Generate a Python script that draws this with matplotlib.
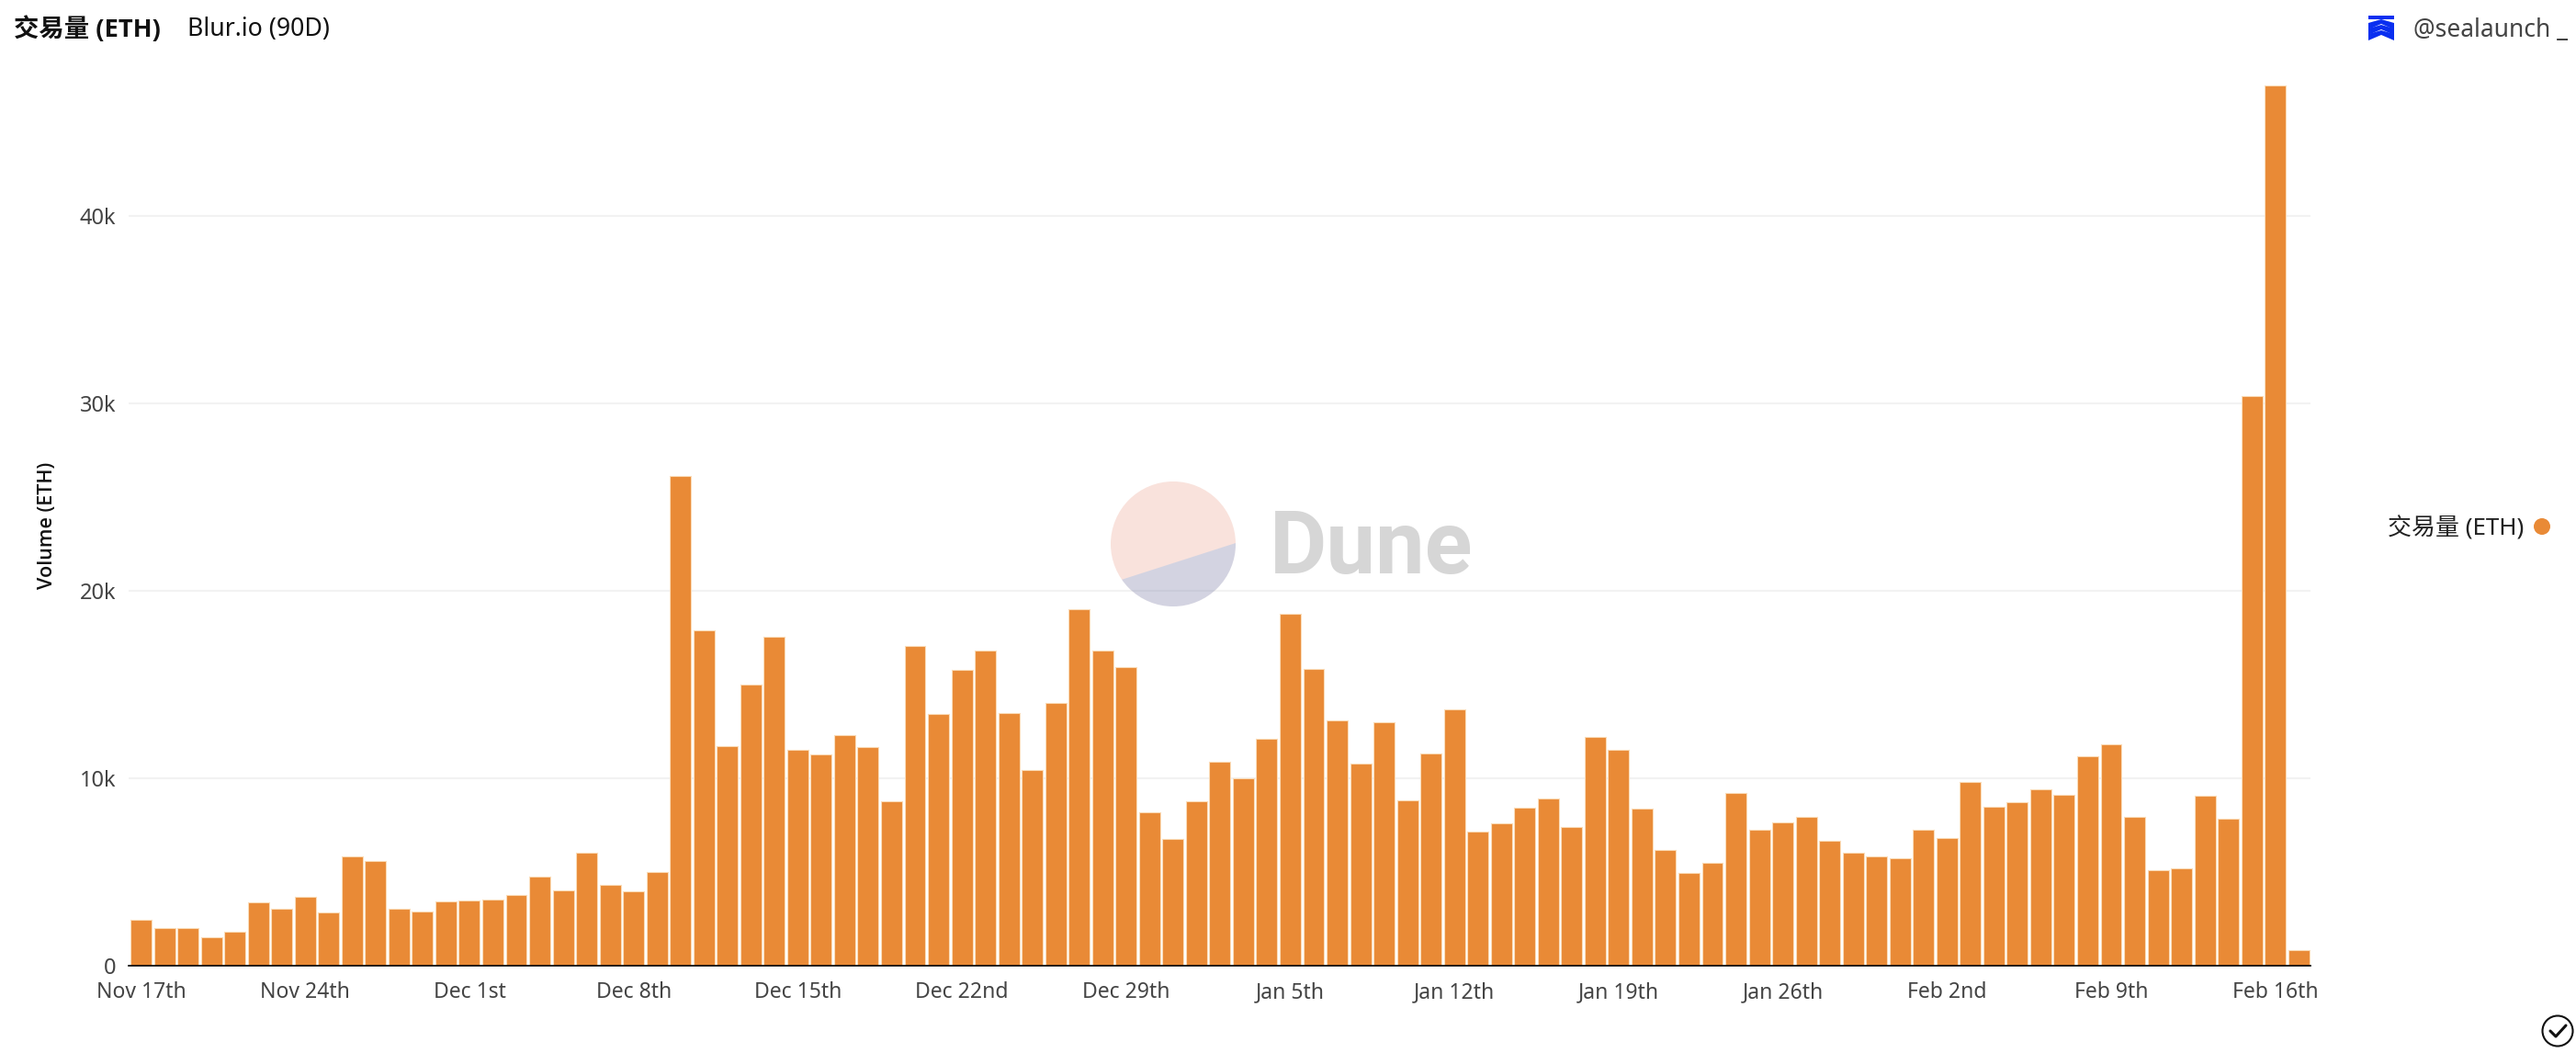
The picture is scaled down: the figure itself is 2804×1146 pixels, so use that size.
import numpy as np
import matplotlib
matplotlib.use('Agg')
import matplotlib.pyplot as plt
from matplotlib.patches import Circle, Polygon

plt.rcParams['font.family'] = ['Noto Sans', 'Noto Sans CJK SC', 'DejaVu Sans']
BOLD_FONTS = ['Open Sans', 'Noto Sans CJK SC', 'DejaVu Sans']

# daily volume, thousands of ETH, Nov 17th onwards
volume_k = [2.45, 1.99, 2.01, 1.50, 1.80, 3.38, 3.03, 3.67, 2.82, 5.81, 5.56, 3.03, 2.87, 3.39, 3.46, 3.52,
            3.73, 4.74, 3.99, 6.00, 4.30, 3.94, 4.99, 26.11, 17.87, 11.72, 15.00, 17.52, 11.50, 11.25, 12.30,
            11.65, 8.77, 17.04, 13.42, 15.77, 16.78, 13.46, 10.43, 13.98, 19.00, 16.78, 15.91, 8.19, 6.75, 8.73, 10.85,
            9.99, 12.07, 18.78, 15.82, 13.05, 10.76, 12.98, 8.82, 11.29, 13.65, 7.12, 7.58, 8.40, 8.89, 7.40,
            12.20, 11.51, 8.38, 6.14, 4.92, 5.48, 9.20, 7.21, 7.61, 7.93, 6.63, 6.02, 5.79, 5.72, 7.24, 6.81,
            9.76, 8.45, 8.70, 9.40, 9.10, 11.15, 11.78, 7.94, 5.09, 5.18, 9.03, 7.84, 30.40, 46.96, 0.79]

x_tick_labels = ['Nov 17th', 'Nov 24th', 'Dec 1st', 'Dec 8th', 'Dec 15th', 'Dec 22nd', 'Dec 29th',
                 'Jan 5th', 'Jan 12th', 'Jan 19th', 'Jan 26th', 'Feb 2nd', 'Feb 9th', 'Feb 16th']
y_ticks_k = [0, 10, 20, 30, 40]
y_tick_labels = ['0', '10k', '20k', '30k', '40k']

W, H = 2804, 1146
ORANGE = '#e98a36'

fig = plt.figure(figsize=(W / 100, H / 100), dpi=100, facecolor='white')
ax = fig.add_axes([140 / W, (H - 1050.5) / H, 2375 / W, 960 / H])

days = np.arange(len(volume_k))
ax.bar(days, volume_k, width=0.9, color=ORANGE, edgecolor='#fbdcb8', linewidth=0.8, zorder=3)

ax.set_xlim(-0.53, 92.5)
ax.set_ylim(0, 960 / 20.39)
ax.set_xticks(days[::7][:len(x_tick_labels)])
ax.set_xticklabels(x_tick_labels, fontsize=16.5, color='#444444')
ax.set_yticks(y_ticks_k)
ax.set_yticklabels(y_tick_labels, fontsize=17, color='#444444')
ax.tick_params(axis='both', length=0)
ax.tick_params(axis='x', pad=12.5)
ax.tick_params(axis='y', pad=10)
ax.grid(axis='y', color='#f2f2f2', linewidth=1.5, zorder=0)
ax.set_axisbelow(True)
for side in ['top', 'right', 'left']:
    ax.spines[side].set_visible(False)
ax.spines['bottom'].set_color('black')
ax.spines['bottom'].set_linewidth(1.2)
ax.spines['bottom'].set_zorder(4)

# overlay in pixel coordinates for the header, legend and watermark
top = fig.add_axes([0, 0, 1, 1], facecolor='none')
top.set_xlim(0, W)
top.set_ylim(H, 0)
top.axis('off')

top.text(52, 572, 'Volume (ETH)', rotation=90, ha='center', va='center', fontsize=15.5, color='#111111',
         family=BOLD_FONTS, fontweight='semibold')
top.text(15, 32, '交易量 (ETH)', ha='left', va='center', fontsize=19.7, fontweight='bold', color='#111111', family=BOLD_FONTS)
top.text(204, 32, 'Blur.io (90D)', ha='left', va='center', fontsize=19.2, color='#111111')
top.text(2627, 33, '@sealaunch _', ha='left', va='center', fontsize=19, color='#444444')

top.text(2747, 575, '交易量 (ETH)', ha='right', va='center', fontsize=18.7, color='#222222')
top.add_patch(Circle((2767, 573), 9, color=ORANGE, lw=0))

# watermark
disc = Circle((1277, 592), 68, facecolor=(225 / 255, 110 / 255, 80 / 255, 0.2), lw=0, zorder=5)
top.add_patch(disc)
lower = Polygon([(1180, 644), (1370, 583), (1370, 680), (1180, 680)], facecolor=(76 / 255, 162 / 255, 247 / 255, 0.22), lw=0, zorder=6)
top.add_patch(lower)
lower.set_clip_path(Circle((1277, 592), 68, transform=top.transData))
top.text(1382, 598, 'Dune', ha='left', va='center', fontsize=69, fontfamily='Roboto', fontweight='bold', color='#d6d6d6')

# logo mark
BLUE = '#0a2ff0'
top.add_patch(Polygon([(2578, 17), (2606, 17), (2606, 20.5), (2578, 20.5)], color=BLUE, lw=0))
for y, half in [(21, 14), (27, 14), (33, 14)]:
    top.add_patch(Polygon([(2592 - half, y + 4), (2592, y), (2592 + half, y + 4), (2592 + half, y + 11),
                           (2592, y + 5), (2592 - half, y + 11)], color=BLUE, lw=0))

# check badge, bottom right
top.add_patch(Circle((2784, 1122), 16.5, facecolor='white', edgecolor='#111111', lw=1.5))
top.plot([2776, 2782, 2793], [1122, 1128, 1116], color='#111111', lw=2.2, solid_capstyle='round')

fig.savefig('out.png', dpi=100)
